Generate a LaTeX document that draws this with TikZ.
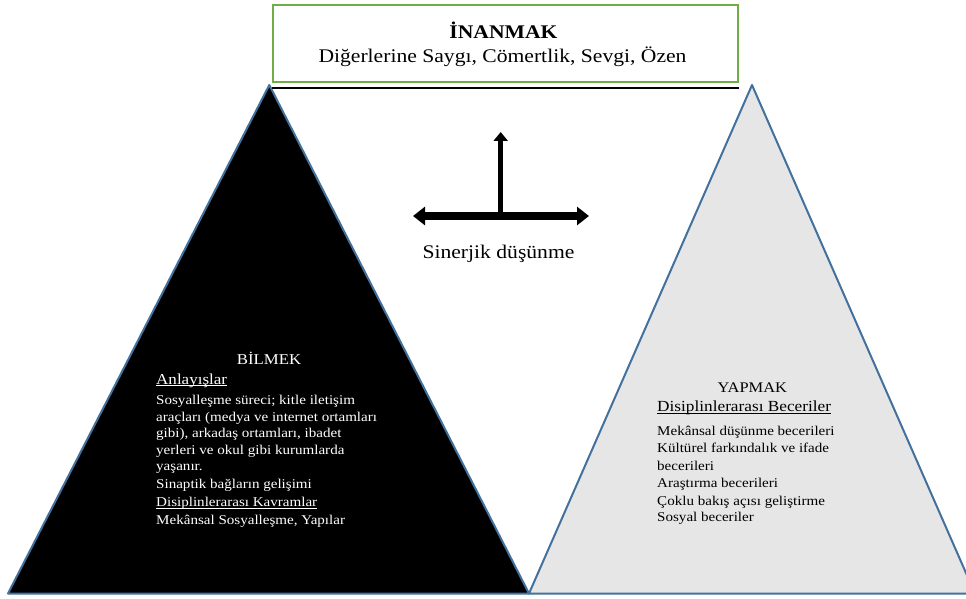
\documentclass[tikz,border=0pt]{standalone}
\usepackage{fontspec}
\setmainfont[FakeStretch=1.12]{Liberation Serif}
\usetikzlibrary{arrows.meta}
\definecolor{boxgreen}{HTML}{70AD47}
\definecolor{edgeblue}{HTML}{41719C}
\definecolor{lightfill}{HTML}{E6E6E6}
\begin{document}
\begin{tikzpicture}[x=1pt,y=-1pt,
  lline/.style={inner sep=0pt, anchor=base west},
  cline/.style={inner sep=0pt, anchor=base},
  bodytext/.style={font=\fontsize{13.45}{16}\selectfont},
  headtext/.style={font=\fontsize{15}{18}\selectfont},
  toptext/.style={font=\fontsize{19.3}{22}\selectfont},
  tri/.style={draw=edgeblue, line width=2pt, line join=round},
  uline/.style={line width=0.9pt}]
\useasboundingbox (0,0) rectangle (966,599);

% the two triangles
\coordinate (LA) at (269.3,85);
\coordinate (LB) at (8,593.5);
\coordinate (LC) at (529,593.5);
\coordinate (RA) at (752,85);
\coordinate (RB) at (529,593.5);
\coordinate (RC) at (975,593.5);
\begin{scope}
  \clip (0,0) rectangle (966,599);
  \draw[tri, fill=lightfill] (RA) -- (RC) -- (RB) -- cycle;
  \draw[tri, fill=black] (LA) -- (LC) -- (LB) -- cycle;
\end{scope}

% top box
\node[draw=boxgreen, line width=2pt, fill=white, inner sep=0pt,
      minimum width=465.5pt, minimum height=77.5pt, anchor=north west]
      (topbox) at (271.5,3.8) {};
\draw[line width=2.5pt] ([yshift=-4.8pt]topbox.south west) -- ([yshift=-4.8pt]topbox.south east);
\node[cline, toptext] (inanmak) at (503.5,38.5) {\bfseries İNANMAK};
\node[cline, toptext] (degerler) at (502.5,62.5) {Diğerlerine Saygı, Cömertlik, Sevgi, Özen};

% synergy arrows
\coordinate (hL) at (413,216);
\coordinate (hR) at (589,216);
\coordinate (vB) at (500.7,217);
\coordinate (vT) at (500.7,132);
\draw[line width=5.5pt, -{Triangle[length=9pt,width=14pt]}] (vB) -- (vT);
\draw[line width=8pt, {Triangle[length=12pt,width=18pt]}-{Triangle[length=12pt,width=18pt]}] (hL) -- (hR);
\node[cline, toptext] (sinerji) at (498.5,258.3) {Sinerjik düşünme};

% left triangle text
\begin{scope}[text=white]
  \node[cline, headtext] (bilmek) at (269,364) {BİLMEK};
  \node[lline, font=\fontsize{15.2}{18}\selectfont] (anlayis) at (156,384) {Anlayışlar};
  \draw[white, uline] ([yshift=-1.8pt]anlayis.base west) -- ([yshift=-1.8pt]anlayis.base east);
  \node[lline, bodytext] (b1) at (156,404) {Sosyalleşme süreci; kitle iletişim};
  \node[lline, bodytext] (b2) at (156,421) {araçları (medya ve internet ortamları};
  \node[lline, bodytext] (b3) at (156,437.5) {gibi), arkadaş ortamları, ibadet};
  \node[lline, bodytext] (b4) at (156,454) {yerleri ve okul gibi kurumlarda};
  \node[lline, bodytext] (b5) at (156,470.7) {yaşanır.};
  \node[lline, bodytext] (b6) at (156,488) {Sinaptik bağların gelişimi};
  \node[lline, bodytext] (kavram) at (156,506.7) {Disiplinlerarası Kavramlar};
  \draw[white, uline] ([yshift=-1.8pt]kavram.base west) -- ([yshift=-1.8pt]kavram.base east);
  \node[lline, bodytext] (b7) at (156,524) {Mekânsal Sosyalleşme, Yapılar};
\end{scope}

% right triangle text
\node[cline, font=\fontsize{14.7}{18}\selectfont] (yapmak) at (752.3,392.7) {YAPMAK};
\node[lline, font=\fontsize{15.4}{18}\selectfont] (beceri) at (657,411.7) {Disiplinlerarası Beceriler};
\draw[uline] ([yshift=-1.8pt]beceri.base west) -- ([yshift=-1.8pt]beceri.base east);
\node[lline, bodytext] (y1) at (657,435.7) {Mekânsal düşünme becerileri};
\node[lline, bodytext] (y2) at (657,452.7) {Kültürel farkındalık ve ifade};
\node[lline, bodytext] (y3) at (657,470) {becerileri};
\node[lline, bodytext] (y4) at (657,487) {Araştırma becerileri};
\node[lline, bodytext] (y5) at (657,505) {Çoklu bakış açısı geliştirme};
\node[lline, bodytext] (y6) at (657,521.7) {Sosyal beceriler};
\end{tikzpicture}
\end{document}
